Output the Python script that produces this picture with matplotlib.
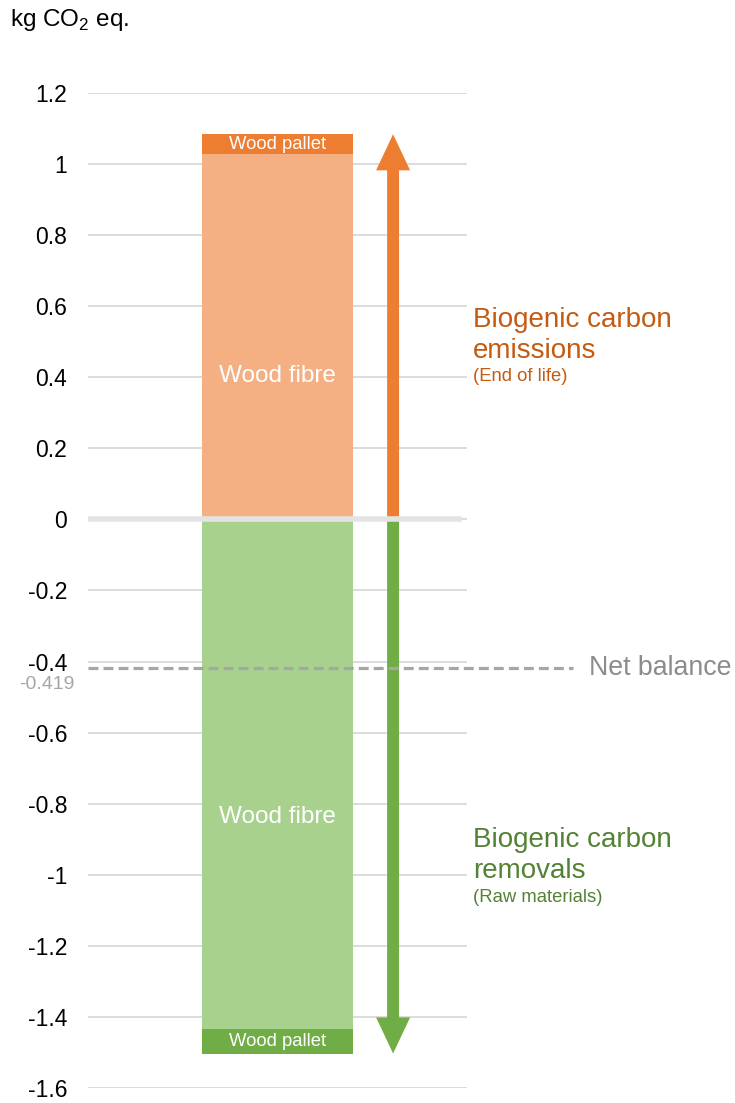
import matplotlib
matplotlib.use("Agg")
import matplotlib.pyplot as plt
from matplotlib.patches import FancyArrowPatch

plt.rcParams["font.family"] = ["Liberation Sans", "DejaVu Sans"]

# Biogenic carbon balance, kg CO2 eq.
components = ["Wood fibre", "Wood pallet"]
emissions = [1.028, 0.056]      # end of life
removals = [-1.433, -0.070]     # raw materials
net_balance = -0.419
yticks = [1.2, 1.0, 0.8, 0.6, 0.4, 0.2, 0.0, -0.2, -0.4, -0.6, -0.8, -1.0, -1.2, -1.4, -1.6]
ytick_labels = ["1.2", "1", "0.8", "0.6", "0.4", "0.2", "0", "-0.2", "-0.4", "-0.6",
                "-0.8", "-1", "-1.2", "-1.4", "-1.6"]

emis_colors = ["#F4B083", "#ED7D31"]
remo_colors = ["#A9D18E", "#70AD47"]
grid_col = "#D9D9D9"

W, H = 735, 1103
top_px, bot_px = 93, 1088
fig = plt.figure(figsize=(W / 100, H / 100), dpi=100)
ax = fig.add_axes([88 / W, 1 - bot_px / H, (467 - 88) / W, (bot_px - top_px) / H])
ax.set_xlim(0, 1)
ax.set_ylim(-1.6, 1.2)

for s in ax.spines.values():
    s.set_visible(False)
ax.set_xticks([])
ax.set_yticks(yticks)
ax.set_yticklabels(ytick_labels)
ax.tick_params(axis="y", length=0, pad=15, labelsize=16.5, labelcolor="#000000")

for t in yticks:
    ax.axhline(t, color=grid_col, lw=1.3, zorder=0)

# stacked bars
bx, bw = 0.5, 0.4
bottom = 0.0
for val, col in zip(emissions, emis_colors):
    ax.bar(bx, val, bottom=bottom, width=bw, color=col, zorder=2)
    bottom += val
bottom = 0.0
for val, col in zip(removals, remo_colors):
    ax.bar(bx, val, bottom=bottom, width=bw, color=col, zorder=2)
    bottom += val

total_emis = sum(emissions)
total_remo = sum(removals)

# segment labels
ax.text(bx, 0.404, components[0], ha="center", va="center", color="white", fontsize=17.5, zorder=3)
ax.text(bx, emissions[0] + emissions[1] / 2, components[1], ha="center", va="center",
        color="white", fontsize=13.3, zorder=3)
ax.text(bx, -0.836, components[0], ha="center", va="center", color="white", fontsize=17.5, zorder=3)
ax.text(bx, removals[0] + removals[1] / 2, components[1], ha="center", va="center",
        color="white", fontsize=13.3, zorder=3)

# arrows
ax_x = 0.805
arrow_style = "simple,head_length=26,head_width=24.5,tail_width=8.6"
for end, col in [(total_emis, "#ED7D31"), (total_remo, "#70AD47")]:
    ax.add_patch(FancyArrowPatch((ax_x, 0), (ax_x, end), arrowstyle=arrow_style,
                                 mutation_scale=1, color=col, lw=0, shrinkA=0, shrinkB=0,
                                 zorder=3))

# zero line
ax.axhline(0, xmin=0, xmax=(459 - 88) / 379, color="#E3E3E3", lw=4, zorder=4)

# net balance
ax.plot([0, (573 - 88) / 379], [net_balance, net_balance], color="#A6A6A6", lw=2.3,
        ls=(0, (3.1, 1.6)), zorder=5, clip_on=False)
ax.annotate(f"{net_balance:.3f}", xy=(0, net_balance), xytext=(-10, -11.5),
            textcoords="offset points", ha="right", va="center", fontsize=14,
            color="#A6A6A6", annotation_clip=False)
ax.text((589 - 88) / 379, net_balance, "Net balance", ha="left", va="center",
        fontsize=19.3, color="#8C8C8C", clip_on=False)

# side annotations
tx = (473 - 88) / 379
ax.text(tx, 0.560, "Biogenic carbon", ha="left", va="center", fontsize=20, color="#C55A11")
ax.text(tx, 0.475, "emissions", ha="left", va="center", fontsize=20, color="#C55A11")
ax.text(tx, 0.402, "(End of life)", ha="left", va="center", fontsize=13.3, color="#C55A11")
ax.text(tx, -0.903, "Biogenic carbon", ha="left", va="center", fontsize=20, color="#548235")
ax.text(tx, -0.990, "removals", ha="left", va="center", fontsize=20, color="#548235")
ax.text(tx, -1.064, "(Raw materials)", ha="left", va="center", fontsize=13.3, color="#548235")

# unit label
fig.text(10 / W, 1 - 20 / H, r"kg CO$_\mathregular{2}$ eq.", ha="left", va="center",
         fontsize=17.5, color="#000000")

fig.savefig("out.png", dpi=100)
